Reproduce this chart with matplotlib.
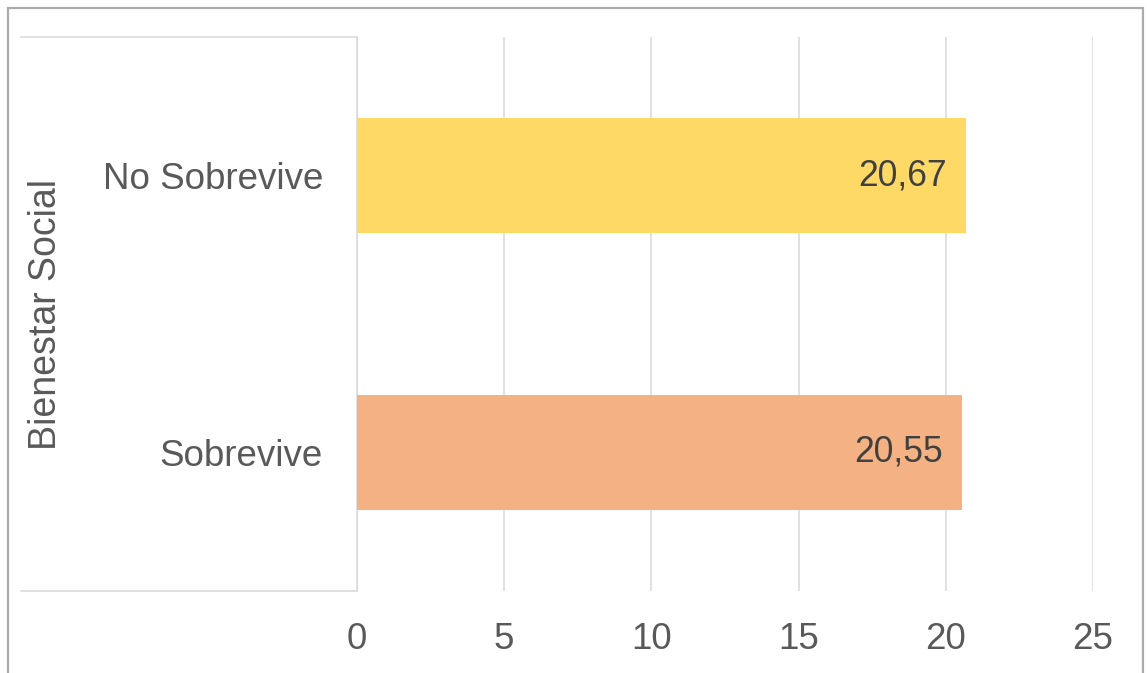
import matplotlib.pyplot as plt
from matplotlib.lines import Line2D
from matplotlib.patches import Rectangle

plt.rcParams['font.family'] = ['Liberation Sans', 'DejaVu Sans']

categorias = ['Sobrevive', 'No Sobrevive']
valores = [20.55, 20.67]
etiquetas = ['20,55', '20,67']
colores = ['#F4B183', '#FFD966']
ticks_x = [0, 5, 10, 15, 20, 25]

W, H = 1147, 673
fig = plt.figure(figsize=(W / 100, H / 100), dpi=100)

# plot area in pixel coords of the reference
x0, x1, y0, y1 = 357, 1093, 37, 591
ax = fig.add_axes([x0 / W, 1 - y1 / H, (x1 - x0) / W, (y1 - y0) / H])

pos = list(range(len(categorias)))
ax.barh(pos, valores, height=0.415, color=colores, zorder=3)
for p, v, t in zip(pos, valores, etiquetas):
    ax.annotate(t, (v, p), xytext=(-13.5, 0), textcoords='offset points',
                ha='right', va='center', fontsize=25.6, color='#404040', zorder=4)

ax.set_xlim(0, 25)
ax.set_ylim(-0.5, 1.5)
ax.set_xticks(ticks_x)
ax.set_xticklabels([str(t) for t in ticks_x])
ax.set_yticks(pos)
ax.set_yticklabels(categorias)
ax.tick_params(axis='x', length=0, pad=22, labelsize=26.5, labelcolor='#595959')
ax.tick_params(axis='y', length=0, pad=24.5, labelsize=26.5, labelcolor='#595959')
ax.grid(axis='x', color='#d9d9d9', linewidth=1.1, zorder=0)
for s in ['top', 'right', 'bottom']:
    ax.spines[s].set_visible(False)
ax.spines['left'].set_color('#d9d9d9')
ax.spines['left'].set_linewidth(1.1)

# category group box on the left
gx0 = 21 / W
fig.add_artist(Line2D([gx0, x0 / W], [1 - y0 / H, 1 - y0 / H], color='#d9d9d9', lw=1.1))
fig.add_artist(Line2D([gx0, x0 / W], [1 - y1 / H, 1 - y1 / H], color='#d9d9d9', lw=1.1))

fig.text(46 / W, 1 - 315 / H, 'Bienestar Social', rotation=90, ha='center', va='center',
         fontsize=27, color='#595959')

# outer chart border
fig.add_artist(Rectangle((8 / W, -0.05), (1143 - 8) / W, 1.05 - 8 / H,
                         transform=fig.transFigure, fill=False, edgecolor='#ababab', lw=1.6))

fig.savefig('out.png', dpi=100)
